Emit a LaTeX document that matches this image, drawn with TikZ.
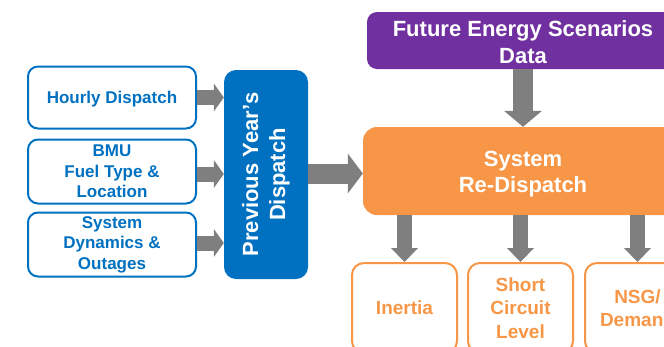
\documentclass[tikz,border=0pt]{standalone}
\usepackage{fontspec}
\setmainfont{Liberation Sans}
\usetikzlibrary{arrows.meta}
\definecolor{myblue}{HTML}{0070C0}
\definecolor{mypurple}{HTML}{7030A0}
\definecolor{myorange}{HTML}{F79646}
\definecolor{mygray}{HTML}{7F7F7F}
\begin{document}
\begin{tikzpicture}[x=1pt,y=-1pt,
  inbox/.style={draw=myblue, line width=2pt, rounded corners=10pt, minimum width=168pt,
    text=myblue, font=\bfseries\fontsize{17}{20.5}\selectfont, align=center, inner sep=0pt},
  intext/.style={text=myblue, font=\bfseries\fontsize{17}{20.5}\selectfont, align=center, inner sep=0pt},
  outbox/.style={draw=myorange, line width=2pt, rounded corners=12pt, minimum width=105pt,
    minimum height=90pt, text=myorange, font=\bfseries\fontsize{19}{23.5}\selectfont,
    align=center, inner sep=0pt},
  bigtext/.style={text=white, font=\bfseries\fontsize{22}{27}\selectfont, align=center, inner sep=0pt},
  smallarrow/.style={draw=mygray, line width=15pt, -{Triangle[length=10pt,width=28pt,line width=0pt]}},
  midarrow/.style={draw=mygray, line width=15pt, -{Triangle[length=14pt,width=27pt,line width=0pt]}},
  bigarrow/.style={draw=mygray, line width=20pt, -{Triangle[length=16pt,width=38pt,line width=0pt]}}
]
\useasboundingbox (0,0) rectangle (664,346);
\clip (0,0) rectangle (664,346);

% input boxes
\node[inbox, minimum height=62pt] (hd) at (112,97.5) {};
\node[intext] (hdtext) at (112,99) {Hourly Dispatch};
\node[inbox, minimum height=64pt] (bmu) at (112,171.5) {BMU\\Fuel Type \&\\Location};
\node[inbox, minimum height=64pt] (sd) at (112,244.5) {System\\Dynamics \&\\Outages};

% previous year's dispatch
\node[fill=myblue, rounded corners=12pt, minimum width=84pt, minimum height=209pt, inner sep=0pt] (pyd) at (266,174.5) {};
\node[bigtext, rotate=90] (pydtext) at (pyd.center) {Previous Year’s\\Dispatch};

% FES data
\node[fill=mypurple, rounded corners=10pt, minimum width=312pt, minimum height=57pt, inner sep=0pt] (fes) at (523,40.5) {};
\node[bigtext] (festext) at (523,42) {Future Energy Scenarios\\Data};

% system re-dispatch
\node[fill=myorange, rounded corners=14pt, minimum width=320pt, minimum height=88pt, inner sep=0pt] (sys) at (523,171) {};
\node[bigtext, font=\bfseries\fontsize{22}{26}\selectfont] (systext) at (523,174) {System\\Re-Dispatch};

% outputs
\node[outbox] (inr) at (404.5,308) {Inertia};
\node[outbox] (scl) at (520.5,308) {Short\\Circuit\\Level};
\node[outbox] (nsg) at (637.5,308) {NSG/\\Demand};

% arrows
\draw[smallarrow] (hd.east) -- (hd.east -| pyd.west);
\draw[smallarrow] ([yshift=-2.5pt]bmu.east) -- ([yshift=-2.5pt]bmu.east -| pyd.west);
\draw[smallarrow] ([yshift=1.5pt]sd.east) -- ([yshift=1.5pt]sd.east -| pyd.west);
\draw[draw=mygray, line width=20pt, -{Triangle[length=15pt,width=40pt,line width=0pt]}] ([yshift=1pt]pyd.east) -- ([yshift=1pt]pyd.east -| sys.west);
\draw[bigarrow] (fes.south) -- (sys.north);
\draw[midarrow] (inr.north |- sys.south) -- (inr.north);
\draw[midarrow] (scl.north |- sys.south) -- (scl.north);
\draw[midarrow] (nsg.north |- sys.south) -- (nsg.north);
\end{tikzpicture}
\end{document}
